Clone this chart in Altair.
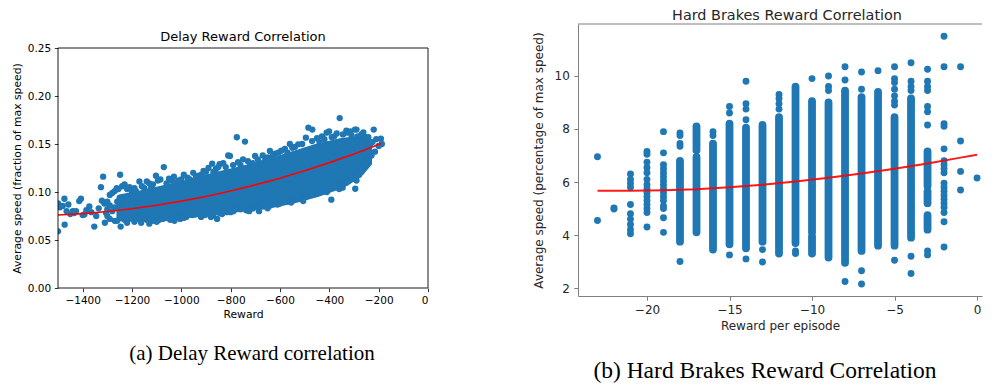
import altair as alt
import pandas as pd

BLUE = "#1f77b4"
RED = "#ff0000"
SANS = "DejaVu Sans"
SERIF = "Liberation Serif"

# ---------------- (a) Delay Reward correlation ----------------
# dense core of the cloud (lower / upper edge)
delay_core_reward = [-1250, -1150, -1050, -950, -850, -750, -650, -550, -450, -350, -280, -240]
delay_core_low = [0.073, 0.072, 0.074, 0.077, 0.080, 0.083, 0.086, 0.091, 0.098, 0.107, 0.118, 0.130]
delay_core_high = [0.094, 0.099, 0.105, 0.111, 0.118, 0.124, 0.131, 0.139, 0.147, 0.153, 0.155, 0.153]

# individual dots (sparse left part, edges of the cloud, outliers)
delay_pt_reward = [
    -1500, -1500, -1492, -1481, -1474, -1473, -1465, -1458, -1450, -1440, -1434, -1427, -1414, -1407,
    -1400, -1393, -1385, -1373, -1365, -1353, -1345, -1335, -1326, -1322, -1317, -1312, -1305,
    -1300, -1290, -1280, -1270, -1260, -1300,
    -1290, -1270, -1262, -1248, -1240, -1220, -1200, -1184, -1170, -1150, -1130, -1123, -1103, -1085,
    -1071, -1060, -1040, -1020, -1000, -975, -952, -930, -918, -900, -875, -860, -845, -820, -810,
    -803, -775, -742, -760, -720, -701, -680, -660, -641, -620, -607, -580, -560, -540, -526, -495,
    -485, -469, -450, -430, -411, -401, -380, -358, -331, -330, -310, -296, -290, -270, -256, -253,
    -235, -220, -210, -191, -187, -200,
    -1280, -1255, -1230, -1210, -1190, -1160, -1140, -1115, -1095, -1050, -1030, -1010, -990, -965,
    -940, -910, -890, -870, -850, -830, -790, -770, -750, -730, -710, -690, -670, -650, -630, -595,
    -570, -550, -510, -470, -440, -420, -390, -370, -345, -315, -285, -262, -242, -225,
    -1310, -1290, -1270, -1246, -1230, -1210, -1190, -1163, -1140, -1116, -1090, -1060, -1028, -1005,
    -980, -955, -943, -920, -895, -870, -855, -835, -815, -789, -760, -737, -710, -685, -665, -640,
    -619, -600, -587, -568, -545, -515, -506, -485, -458, -425, -392, -370, -346, -339, -320, -295,
    -280, -265, -249, -229, -215,
    -1300, -1260, -1220, -1175, -1130, -1100, -1075, -1045, -1015, -990, -965, -930, -905, -880,
    -845, -825, -800, -775, -750, -725, -695, -675, -650, -630, -610, -575, -555, -530, -495, -470,
    -440, -410, -380, -360, -330, -305, -290, -270, -255, -240,
]
delay_pt_speed = [
    0.059, 0.088, 0.084, 0.0855, 0.093, 0.066, 0.080, 0.087, 0.077, 0.080, 0.078, 0.080, 0.0905, 0.093,
    0.076, 0.0766, 0.081, 0.085, 0.079, 0.064, 0.075, 0.083, 0.105, 0.091, 0.116, 0.088, 0.078,
    0.082, 0.086, 0.080, 0.084, 0.090, 0.090,
    0.097, 0.101, 0.104, 0.118, 0.106, 0.103, 0.100, 0.101, 0.111, 0.104, 0.109, 0.104, 0.117, 0.113,
    0.126, 0.109, 0.112, 0.110, 0.113, 0.115, 0.120, 0.117, 0.118, 0.121, 0.1295, 0.124, 0.129, 0.126, 0.138,
    0.1375, 0.157, 0.1525, 0.128, 0.127, 0.1375, 0.130, 0.133, 0.1427, 0.140, 0.141, 0.145, 0.150, 0.147, 0.1497, 0.1566,
    0.167, 0.165, 0.156, 0.158, 0.1618, 0.163, 0.158, 0.177, 0.164, 0.1618, 0.159, 0.165, 0.165, 0.160, 0.1566, 0.157,
    0.150, 0.165, 0.155, 0.1555, 0.150, 0.148,
    0.099, 0.103, 0.108, 0.105, 0.104, 0.106, 0.111, 0.108, 0.112, 0.114, 0.116, 0.112, 0.118, 0.113,
    0.116, 0.122, 0.125, 0.121, 0.126, 0.130, 0.128, 0.131, 0.134, 0.132, 0.130, 0.134, 0.138, 0.136, 0.137, 0.143,
    0.141, 0.146, 0.150, 0.153, 0.152, 0.155, 0.157, 0.161, 0.160, 0.163, 0.158, 0.162, 0.157, 0.152,
    0.068, 0.072, 0.070, 0.064, 0.071, 0.073, 0.069, 0.068, 0.071, 0.070, 0.071, 0.073, 0.070, 0.072,
    0.074, 0.076, 0.0766, 0.074, 0.077, 0.076, 0.072, 0.077, 0.079, 0.080, 0.082, 0.081, 0.083, 0.080, 0.085, 0.086,
    0.0905, 0.088, 0.094, 0.092, 0.093, 0.093, 0.0906, 0.097, 0.101, 0.101, 0.092, 0.106, 0.1045, 0.117, 0.112, 0.1034,
    0.118, 0.125, 0.1357, 0.138, 0.142,
    0.075, 0.070, 0.068, 0.072, 0.067, 0.069, 0.072, 0.071, 0.074, 0.073, 0.077, 0.078, 0.076, 0.074,
    0.078, 0.081, 0.079, 0.083, 0.085, 0.080, 0.084, 0.087, 0.083, 0.089, 0.087, 0.090, 0.089, 0.095, 0.095, 0.099,
    0.103, 0.100, 0.106, 0.103, 0.110, 0.114, 0.112, 0.121, 0.129, 0.133,
]

# red trend curve
delay_fit_reward = [-1500, -1400, -1300, -1200, -1100, -1000, -900, -800, -700, -600, -500, -400, -300, -190]
delay_fit_speed = [0.0760, 0.0775, 0.0797, 0.0826, 0.0862, 0.0905, 0.0954, 0.1011, 0.1074, 0.1144, 0.1222, 0.1306, 0.1397, 0.1505]

delay_x_ticks = [-1400, -1200, -1000, -800, -600, -400, -200, 0]
delay_y_ticks = [0.0, 0.05, 0.10, 0.15, 0.20, 0.25]

# ---------------- (b) Hard Brakes Reward Correlation ----------------
brake_pt_reward = (
    [-23] * 2 + [-22] * 2 + [-21] * 10 + [-20] * 15 + [-19] * 16 + [-18] * 5 + [-16] * 2 + [-15] * 3
    + [-14] * 5 + [-13] * 2 + [-12] * 4 + [-11] * 2 + [-10] * 1 + [-9] * 3 + [-8] * 3 + [-7] * 4
    + [-6] * 1 + [-5] * 8 + [-4] * 6 + [-3] * 9 + [-2] * 19 + [-1] * 4 + [0] * 1
)
brake_pt_speed = [
    6.95, 4.55,
    5.02, 4.98,
    6.3, 6.1, 5.95, 5.8, 5.15, 4.8, 4.6, 4.4, 4.2, 4.05,
    7.15, 7.05, 6.75, 6.55, 6.35, 6.1, 5.9, 5.75, 5.6, 5.45, 5.3, 5.15, 5.0, 4.85, 4.3,
    7.9, 7.1, 6.65, 6.5, 6.35, 6.2, 6.05, 5.9, 5.75, 5.6, 5.45, 5.3, 5.1, 5.0, 4.65, 4.1,
    7.85, 7.75, 7.45, 7.35, 3.0,
    7.9, 7.75,
    8.85, 8.6, 3.25,
    9.8, 8.95, 8.75, 8.35, 3.1,
    3.45, 2.98,
    9.3, 9.15, 8.95, 8.75,
    3.4, 3.3,
    9.9,
    10.0, 9.6, 9.45,
    10.35, 9.85, 2.25,
    10.15, 9.5, 2.65, 2.15,
    10.2,
    10.35, 9.9, 9.75, 9.5, 9.25, 9.05, 8.9, 3.05,
    10.5, 9.8, 9.6, 9.45, 3.2, 2.55,
    10.25, 9.8, 9.6, 9.45, 8.85, 8.65, 8.15, 3.4, 3.25,
    11.5, 10.35, 8.2, 8.1, 7.25, 6.8, 6.65, 6.5, 6.35, 5.95, 5.8, 5.65, 5.5, 5.35, 5.2, 5.05, 4.85, 4.5, 3.55,
    10.35, 7.55, 6.4, 5.7,
    6.15,
]
# runs of overlapping dots in one column (from / to)
brake_run_reward = [-18, -17, -17, -16, -15, -14, -13, -12, -11, -10, -10, -9, -8, -7, -6, -5, -4, -3, -3, -3]
brake_run_low = [3.75, 7.2, 4.1, 3.45, 3.65, 3.5, 3.75, 3.3, 3.7, 4.1, 3.3, 3.15, 2.95, 3.4, 3.6, 3.6, 3.9, 5.85, 5.2, 4.2]
brake_run_high = [6.8, 8.1, 6.95, 7.45, 8.2, 8.05, 8.15, 8.45, 9.6, 9.05, 3.95, 9.0, 9.45, 9.2, 9.4, 8.45, 9.15, 7.15, 5.65, 4.75]

brake_fit_reward = [-23, -21, -19, -17, -15, -13, -11, -9, -7, -5, -3, -1, 0]
brake_fit_speed = [5.67, 5.67, 5.69, 5.73, 5.80, 5.90, 6.02, 6.16, 6.32, 6.50, 6.70, 6.92, 7.03]

brake_x_ticks = [-20, -15, -10, -5, 0]
brake_y_ticks = [2, 4, 6, 8, 10]

# ---------------- tables ----------------
d_core = pd.DataFrame({"x": delay_core_reward, "lo": delay_core_low, "hi": delay_core_high})
d_pts = pd.DataFrame({"x": delay_pt_reward, "y": delay_pt_speed})
d_fit = pd.DataFrame({"x": delay_fit_reward, "y": delay_fit_speed})
b_pts = pd.DataFrame({"x": brake_pt_reward, "y": brake_pt_speed})
b_run = pd.DataFrame({"x": brake_run_reward, "lo": brake_run_low, "hi": brake_run_high})
b_fit = pd.DataFrame({"x": brake_fit_reward, "y": brake_fit_speed})
one = pd.DataFrame({"t": ["."]})

# ---------------- panel (a) ----------------
# the group is 24 px taller than the framed axes so that both panels share one origin
W1, H1 = 370, 264
xs1 = alt.Scale(domain=[-1500, 0], nice=False, zero=False)
ys1 = alt.Scale(domain=[0, 0.275], nice=False, zero=False)
ax1 = dict(grid=False, domain=False, tickColor="black", tickSize=3.7, tickWidth=0.8,
           labelColor="black", labelFont=SANS, labelFontSize=10.5, labelPadding=3.7,
           titleColor="black", titleFont=SANS, titleFontSize=10.8, titleFontWeight="normal")
X1 = lambda f: alt.X(f, scale=xs1, axis=alt.Axis(values=delay_x_ticks, format="d", title="Reward",
                                                 titlePadding=3, **ax1))
Y1 = lambda f: alt.Y(f, scale=ys1, axis=alt.Axis(values=delay_y_ticks, format=".2f",
                                                 title="Average speed (fraction of max speed)",
                                                 titlePadding=5, titleY=144, titleAlign="center", **ax1))

a_core = alt.Chart(d_core).mark_area(color=BLUE, stroke=BLUE, strokeWidth=6.5, strokeJoin="round",
                                     opacity=1, clip=True).encode(x=X1("x:Q"), y=Y1("lo:Q"), y2="hi:Q")
a_pts = alt.Chart(d_pts).mark_circle(size=40, color=BLUE, opacity=1, clip=True).encode(
    x=X1("x:Q"), y=Y1("y:Q"))
a_fit = alt.Chart(d_fit).mark_line(color=RED, strokeWidth=1.6).encode(x=X1("x:Q"), y=Y1("y:Q"))
a_frame = alt.Chart(one).mark_rect(fillOpacity=0, stroke="black", strokeWidth=0.9).encode(
    x=alt.datum(-1500), x2=alt.datum(0), y=alt.datum(0.0), y2=alt.datum(0.25))
a_title = alt.Chart(pd.DataFrame({"t": ["Delay Reward Correlation"]})).mark_text(
    font=SANS, fontSize=13, baseline="alphabetic", align="center", color="black").encode(
    x=alt.value(185), y=alt.value(17), text="t:N")
a_caption = alt.Chart(pd.DataFrame({"t": ["(a) Delay Reward correlation"]})).mark_text(
    font=SERIF, fontSize=21, baseline="alphabetic", align="center", color="black").encode(
    x=alt.value(194), y=alt.value(336), text="t:N")

panel_a = alt.layer(a_core, a_pts, a_fit, a_frame, a_title, a_caption).properties(width=W1, height=H1)

# ---------------- panel (b) ----------------
W2, H2 = 404, 272
GREY = "#7f7f7f"
xs2 = alt.Scale(domain=[-24.18, 0.30], nice=False, zero=False)
ys2 = alt.Scale(domain=[1.70, 11.96], nice=False, zero=False)
ax2 = dict(grid=False, domain=True, domainColor=GREY, domainWidth=1, tickColor=GREY, tickSize=4.2,
           tickWidth=1, labelColor="#262626", labelFont=SANS, labelFontSize=12, labelPadding=4.5,
           titleColor="#262626", titleFont=SANS, titleFontSize=12, titleFontWeight="normal")
X2 = lambda f: alt.X(f, scale=xs2, axis=alt.Axis(values=brake_x_ticks, format="d",
                                                 title="Reward per episode", titlePadding=5, **ax2))
Y2 = lambda f: alt.Y(f, scale=ys2, axis=alt.Axis(values=brake_y_ticks, format="d",
                                                 title="Average speed (percentage of max speed)",
                                                 titlePadding=9, **ax2))

b_runs = alt.Chart(b_run).mark_rule(color=BLUE, strokeWidth=7.8, strokeCap="round").encode(
    x=X2("x:Q"), y=Y2("lo:Q"), y2="hi:Q")
b_dots = alt.Chart(b_pts).mark_circle(size=48, color=BLUE, opacity=1).encode(x=X2("x:Q"), y=Y2("y:Q"))
b_line = alt.Chart(b_fit).mark_line(color=RED, strokeWidth=2, opacity=0.9).encode(x=X2("x:Q"), y=Y2("y:Q"))
b_top = alt.Chart(one).mark_rule(color=GREY, strokeWidth=1).encode(
    x=alt.value(0), x2=alt.value(W2), y=alt.value(0))
b_title = alt.Chart(pd.DataFrame({"t": ["Hard Brakes Reward Correlation"]})).mark_text(
    font=SANS, fontSize=14.4, baseline="alphabetic", align="center", color="#262626").encode(
    x=alt.value(209), y=alt.value(-4), text="t:N")
b_caption = alt.Chart(pd.DataFrame({"t": ["(b) Hard Brakes Reward Correlation"]})).mark_text(
    font=SERIF, fontSize=23.5, baseline="alphabetic", align="center", color="black").encode(
    x=alt.value(187), y=alt.value(353.7), text="t:N")

panel_b = alt.layer(b_runs, b_dots, b_line, b_top, b_title, b_caption).properties(width=W2, height=H2)

chart = alt.hconcat(panel_a, panel_b, spacing=103).configure(
    padding={"left": 3, "top": 0, "right": 0, "bottom": 0}, background="white"
).configure_view(stroke=None)

chart.save("out.html", embed_options={"renderer": "svg", "actions": False})
